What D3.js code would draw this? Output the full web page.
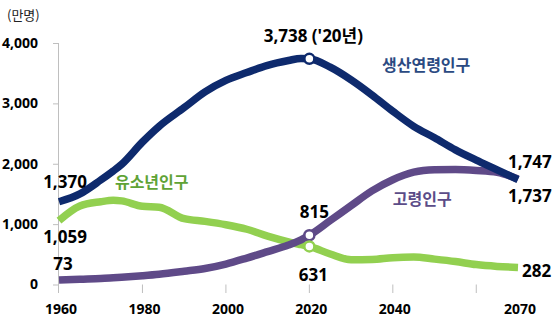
<!DOCTYPE html>
<html><head><meta charset="utf-8">
<script src="https://cdn.jsdelivr.net/npm/d3@7"></script>
<style>
html,body{margin:0;padding:0;background:#fff;}
svg{display:block;}
</style></head>
<body>
<svg id="c" width="556" height="328"></svg>
<script>
// ---- data (만명) ----
const years = [1960,1965,1970,1973,1975,1980,1984,1990,1995,2000,2005,2010,2015,2018,2020,2025,2030,2035,2040,2045,2050,2055,2060,2065,2070];
const workingAge = [1370,1500,1730,1880,1990,2360,2620,2930,3190,3380,3510,3630,3710,3745,3738,3600,3390,3140,2870,2620,2430,2230,2060,1900,1737];
const youth = [1059,1300,1371,1395,1385,1295,1280,1090,1045,990,915,800,705,660,631,505,410,415,445,455,420,380,330,300,282];
const elderly = [73,87,99,112,121,146,170,220,266,339,438,545,654,740,815,1059,1306,1550,1735,1860,1900,1905,1890,1860,1747];
const seriesNames = ["생산연령인구","유소년인구","고령인구"];
const yTicks = [0,1000,2000,3000,4000];
const yTickLabels = ["0","1,000","2,000","3,000","4,000"];
const xTicks = [1960,1980,2000,2020,2040,2060];
const xTickLabels = [1960,1980,2000,2020,2040,2070];
const unitLabel = "(만명)";
const markYear = 2020;
const markLabels = ["3,738 ('20년)","815","631"];
const startLabels = ["1,370","1,059","73"];
const endLabels = ["1,737","282","1,747"];
const nameAnchors = [[2037.4,3536],[1973.4,1598],[2040,1317]];

const colors = {work:"#0E2A6D", youth:"#92D050", old:"#5F4A88"};
const textColors = {work:"#2B4A82", youth:"#5FA336", old:"#5B4C88"};

const svg = d3.select("#c");
const x = d3.scaleLinear().domain([1960,2070]).range([59,518]);
const y = d3.scaleLinear().domain([0,4000]).range([284.5,43]);

const numFont = "'Open Sans','Noto Sans CJK KR',sans-serif";
const korFont = "'Noto Sans CJK KR','Open Sans',sans-serif";

// y axis
const yAxis = d3.axisLeft(y).tickValues(yTicks).tickSize(5.5).tickFormat((d,i)=>yTickLabels[i]).tickPadding(15);
const gy = svg.append("g").attr("transform","translate(58.5,0)").call(yAxis);
gy.select(".domain").attr("stroke","#bfbfbf").attr("d","M0,43V293");
gy.selectAll(".tick line").attr("stroke","#bfbfbf");
gy.selectAll(".tick text").attr("font-family",numFont).attr("font-weight","bold").attr("font-size","14px").attr("fill","#000");

// x ticks
const gx = svg.append("g");
gx.selectAll("line").data(xTicks.slice(1)).join("line")
  .attr("x1",d=>x(d)).attr("x2",d=>x(d)).attr("y1",y(0)).attr("y2",293)
  .attr("stroke","#bfbfbf");
gx.selectAll("text").data(xTickLabels).join("text")
  .attr("x",d=>x(d)+2).attr("y",314).attr("text-anchor","middle")
  .attr("font-family",numFont).attr("font-weight","bold").attr("font-size","14px").text(d=>d);

svg.append("text").attr("x",7).attr("y",20).attr("font-family",korFont).attr("font-size","13px").attr("fill","#222").text(unitLabel);

const line = d3.line().x((d,i)=>x(years[i])).y(d=>y(d)).curve(d3.curveMonotoneX);
const series = [[youth,colors.youth],[elderly,colors.old],[workingAge,colors.work]];
series.forEach(([vals,col])=>{
  svg.append("path").attr("d",line(vals)).attr("fill","none").attr("stroke",col)
    .attr("stroke-width",7.5).attr("stroke-linejoin","round").attr("stroke-linecap","butt");
});

// markers
const mi = years.indexOf(markYear);
[[workingAge,colors.work],[elderly,colors.old],[youth,colors.youth]].forEach(([vals,col])=>{
  svg.append("circle").attr("cx",x(markYear)).attr("cy",y(vals[mi])).attr("r",5)
    .attr("fill","#fff").attr("stroke",col).attr("stroke-width",2.5);
});

function lab(t,px,py,anchor){
  return svg.append("text").attr("x",px).attr("y",py).attr("text-anchor",anchor||"middle")
    .attr("font-family",numFont).attr("font-weight","bold").attr("font-size","17px").attr("fill","#000").text(t);
}
// 2020 labels
lab(markLabels[0], x(markYear)+4, y(workingAge[mi])-17);
lab(markLabels[1], x(markYear)+5, y(elderly[mi])-17);
lab(markLabels[2], x(markYear)+4, y(youth[mi])+35);
// start labels
lab(startLabels[0], x(1960)+6, y(workingAge[0])-14);
lab(startLabels[1], x(1960)+6, y(youth[0])+22);
lab(startLabels[2], x(1960)+4, y(elderly[0])-10);
// end labels
const last = years.length-1;
lab(endLabels[2], x(2070)-10, y(elderly[last])-11, "start");
lab(endLabels[0], x(2070)-10, y(workingAge[last])+22, "start");
lab(endLabels[1], x(2070)+4, y(youth[last])+9.5, "start");

// series names
const nameCols = [textColors.work,textColors.youth,textColors.old];
seriesNames.forEach((n,i)=>{
  svg.append("text").attr("x",x(nameAnchors[i][0])).attr("y",y(nameAnchors[i][1]))
    .attr("font-family",korFont).attr("font-weight","bold").attr("font-size","16px")
    .attr("fill",nameCols[i]).text(n);
});
</script>
</body></html>
